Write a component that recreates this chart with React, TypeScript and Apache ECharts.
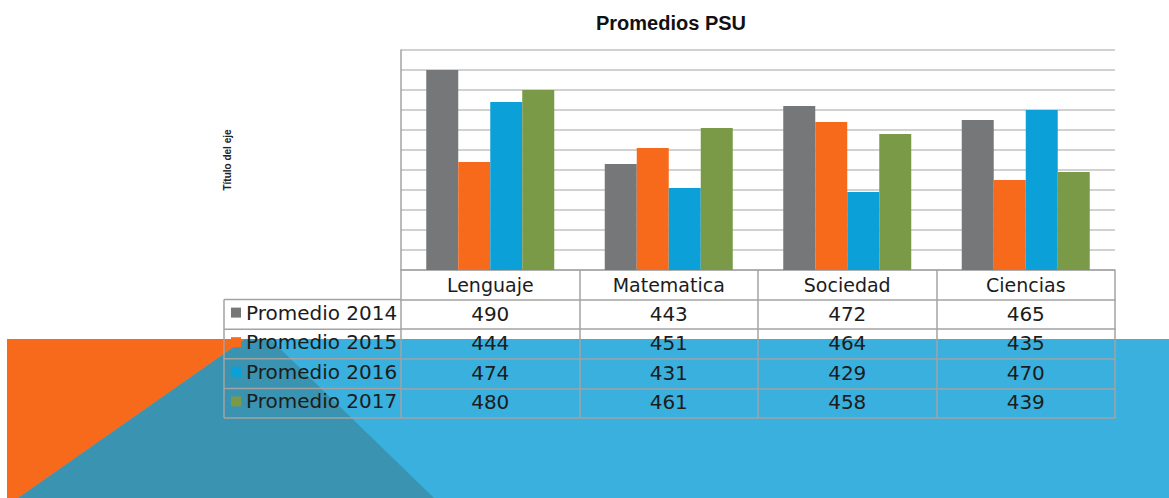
import React, { useEffect, useRef } from "react";
import * as echarts from "echarts";

const categories = ["Lenguaje", "Matematica", "Sociedad", "Ciencias"];
const seriesNames = ["Promedio 2014", "Promedio 2015", "Promedio 2016", "Promedio 2017"];
const promedio2014 = [490, 443, 472, 465];
const promedio2015 = [444, 451, 464, 435];
const promedio2016 = [474, 431, 429, 470];
const promedio2017 = [480, 461, 458, 439];
const seriesValues = [promedio2014, promedio2015, promedio2016, promedio2017];
const seriesColors = ["#767779", "#f76a1c", "#0ca0d9", "#7a9a47"];
const yMin = 390;
const yMax = 500;
const yInterval = 10;

const W = 1169;
const H = 498;
const PLOT_L = 401;
const PLOT_R = 1115;
const PLOT_T = 50;
const PLOT_B = 270;
const ROW_H = 29.6;
const LEG_L = 224;
const LINE_COLOR = "#a3a3a3";
const TXT = "#1c1c1c";
const FONT = "DejaVu Sans";

export default function App() {
  const ref = useRef<HTMLDivElement>(null);
  useEffect(() => {
    if (!ref.current) return;
    const chart = echarts.init(ref.current, null, { renderer: "svg" });
    const nRows = seriesNames.length;
    const tableH = ROW_H * (nRows + 1);

    const xAxes: any[] = [];
    xAxes.push({
      type: "category",
      data: categories,
      position: "bottom",
      offset: 0,
      axisLine: { show: true, lineStyle: { color: LINE_COLOR, width: 1.5 } },
      axisTick: { show: true, length: tableH, interval: 0, lineStyle: { color: LINE_COLOR, width: 1.5 } },
      axisLabel: { show: true, interval: 0, margin: 5, fontSize: 19, color: TXT, fontFamily: FONT },
    });
    for (let i = 0; i < nRows; i++) {
      const vals = seriesValues[i];
      xAxes.push({
        type: "category",
        data: categories,
        position: "bottom",
        offset: ROW_H * (i + 1),
        axisLine: { show: true, lineStyle: { color: LINE_COLOR, width: 1.5 } },
        axisTick: { show: false },
        axisLabel: {
          show: true,
          interval: 0,
          margin: 4,
          fontSize: 20,
          color: TXT,
          fontFamily: FONT,
          formatter: (_v: string, idx: number) => String(vals[idx]),
        },
      });
    }
    xAxes.push({
      type: "category",
      data: categories,
      position: "bottom",
      offset: tableH,
      axisLine: { show: true, lineStyle: { color: LINE_COLOR, width: 1.5 } },
      axisTick: { show: false },
      axisLabel: { show: false },
    });

    const legendLines: any[] = [];
    for (let i = 0; i <= nRows; i++) {
      const y = PLOT_B + ROW_H * (i + 1);
      legendLines.push({
        type: "line",
        z: 5,
        shape: { x1: LEG_L, y1: y, x2: PLOT_L, y2: y },
        style: { stroke: LINE_COLOR, lineWidth: 1.5 },
      });
    }
    legendLines.push({
      type: "line",
      z: 5,
      shape: { x1: LEG_L, y1: PLOT_B + ROW_H, x2: LEG_L, y2: PLOT_B + tableH },
      style: { stroke: LINE_COLOR, lineWidth: 1.5 },
    });

    const bgTop = 339;
    const background: any[] = [
      { type: "rect", z: -10, shape: { x: 7, y: bgTop, width: W - 7, height: H - bgTop }, style: { fill: "#39b0de" } },
      {
        type: "polygon",
        z: -9,
        shape: { points: [[245, bgTop], [270, bgTop], [434, H], [18, H]] },
        style: { fill: "#3993b1" },
      },
      {
        type: "polygon",
        z: -8,
        shape: { points: [[7, bgTop], [245, bgTop], [18, H], [7, H]] },
        style: { fill: "#f76a1b" },
      },
    ];

    chart.setOption({
      animation: false,
      backgroundColor: "#ffffff",
      title: {
        text: "Promedios PSU",
        left: 591,
        top: 8,
        textStyle: { fontSize: 20, fontWeight: "bold", color: "#111", fontFamily: "Liberation Sans" },
      },
      legend: {
        orient: "vertical",
        left: 226,
        top: PLOT_B + ROW_H - 2,
        itemWidth: 10,
        itemHeight: 10,
        itemGap: ROW_H - 20,
        icon: "rect",
        data: seriesNames,
        textStyle: { fontSize: 20, lineHeight: 20, color: TXT, fontFamily: FONT },
      },
      grid: { left: PLOT_L, right: W - PLOT_R, top: PLOT_T, bottom: H - PLOT_B, containLabel: false },
      xAxis: xAxes,
      yAxis: {
        type: "value",
        min: yMin,
        max: yMax,
        interval: yInterval,
        name: "Título del eje",
        nameLocation: "middle",
        nameRotate: 90,
        nameGap: 169,
        nameTextStyle: { fontSize: 10, color: "#222", fontWeight: "bold", fontFamily: "Liberation Sans" },
        axisLine: { show: true, lineStyle: { color: LINE_COLOR, width: 1.5 } },
        axisTick: { show: false },
        axisLabel: { show: false },
        splitLine: { show: true, lineStyle: { color: "#c2c2c2", width: 1.5 } },
      },
      graphic: [...background, ...legendLines],
      series: seriesNames.map((name, i) => ({
        name,
        type: "bar",
        xAxisIndex: 0,
        data: seriesValues[i],
        barWidth: 32,
        barGap: "0%",
        itemStyle: { color: seriesColors[i] },
      })),
    });
    return () => chart.dispose();
  }, []);
  return <div ref={ref} style={{ position: "fixed", left: 0, top: 0, width: W, height: H }} />;
}
